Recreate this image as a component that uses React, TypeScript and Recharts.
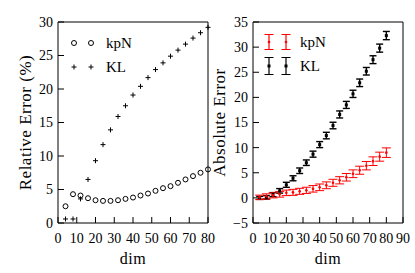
import React from "react";
import { ScatterChart, Scatter, XAxis, YAxis, ErrorBar, Legend, Label } from "recharts";

const FONT = "Liberation Serif, Times New Roman, DejaVu Serif, serif";

// dimension sampled every 4
const dims = [4, 8, 12, 16, 20, 24, 28, 32, 36, 40, 44, 48, 52, 56, 60, 64, 68, 72, 76, 80];

// left panel: relative error (%)
const kpnRelative = [2.5, 4.3, 4.1, 3.7, 3.4, 3.3, 3.3, 3.4, 3.6, 3.8, 4.1, 4.4, 4.8, 5.2, 5.5, 6.0, 6.5, 7.0, 7.5, 8.0];
const klRelative = [0.6, 0.6, 3.6, 6.5, 9.3, 11.7, 13.9, 15.9, 17.5, 19.1, 20.4, 21.7, 22.9, 23.9, 24.9, 25.8, 26.7, 27.6, 28.4, 29.2];

// right panel: absolute error with error bars
const kpnAbsolute = [0.1, 0.3, 0.5, 0.7, 1.0, 1.1, 1.3, 1.5, 1.8, 2.1, 2.5, 3.0, 3.5, 4.1, 4.8, 5.5, 6.4, 7.3, 8.2, 9.0];
const kpnAbsErr = [0.45, 0.5, 0.5, 0.55, 0.55, 0.6, 0.6, 0.62, 0.65, 0.66, 0.68, 0.7, 0.72, 0.75, 0.77, 0.8, 0.83, 0.86, 0.9, 0.95];
const klAbsolute = [0.0, 0.1, 0.65, 1.4, 2.6, 3.9, 5.4, 7.0, 8.7, 10.6, 12.4, 14.4, 16.6, 18.5, 20.7, 22.9, 25.2, 27.5, 29.8, 32.3];
const klAbsErr = [0.3, 0.35, 0.4, 0.45, 0.5, 0.5, 0.55, 0.55, 0.6, 0.6, 0.65, 0.65, 0.7, 0.7, 0.72, 0.75, 0.75, 0.78, 0.8, 0.82];

const relTicksX = [0, 10, 20, 30, 40, 50, 60, 70, 80];
const relTicksY = [0, 5, 10, 15, 20, 25, 30];
const absTicksX = [0, 10, 20, 30, 40, 50, 60, 70, 80, 90];
const absTicksY = [-5, 0, 5, 10, 15, 20, 25, 30, 35];

const kpnRelData = dims.map((d, i) => ({ dim: d, value: kpnRelative[i] }));
const klRelData = dims.map((d, i) => ({ dim: d, value: klRelative[i] }));
const kpnAbsData = dims.map((d, i) => ({ dim: d, value: kpnAbsolute[i], err: kpnAbsErr[i] }));
const klAbsData = dims.map((d, i) => ({ dim: d, value: klAbsolute[i], err: klAbsErr[i] }));

const tickStyle = { fill: "#000", fontSize: 14, fontFamily: FONT, style: { fontFamily: FONT } };
const minus = (v: number) => String(v).replace("-", "\u2212");

const Circle = (p: any) => <circle cx={p.cx} cy={p.cy} r={2.5} fill="none" stroke="#000" strokeWidth={1} />;
const Plus = (p: any) => (
  <path d={`M${p.cx - 2.5},${p.cy}H${p.cx + 2.5}M${p.cx},${p.cy - 2.5}V${p.cy + 2.5}`} stroke="#000" strokeWidth={1} />
);
const RedDot = (p: any) => <circle cx={p.cx} cy={p.cy} r={1.3} fill="#ff0000" />;
const BlackSquare = (p: any) => <rect x={p.cx - 1.5} y={p.cy - 1.5} width={3} height={3} fill="#000" />;

const txt = { fontFamily: FONT, fill: "#000" };

const SideLabel = (p: any) => {
  const vb = p.viewBox;
  const cx = vb.x + p.dx;
  const cy = vb.y + vb.height / 2;
  return (
    <text x={cx} y={cy} transform={`rotate(-90 ${cx} ${cy})`} textAnchor="middle" dominantBaseline="central"
      style={{ ...txt, fontSize: 17, letterSpacing: 0.5 }}>
      {p.text}
    </text>
  );
};

const DimLabel = (p: any) => {
  const vb = p.viewBox;
  return (
    <text x={vb.x + vb.width / 2} y={vb.y + 41} textAnchor="middle" style={{ ...txt, fontSize: 16, letterSpacing: 0.5 }}>
      dim
    </text>
  );
};

const RelLegend = () => (
  <svg width={70} height={45}>
    <circle cx={8} cy={10} r={2.5} fill="none" stroke="#000" />
    <circle cx={25} cy={10} r={2.5} fill="none" stroke="#000" />
    <text x={40} y={15} style={{ ...txt, fontSize: 15 }}>kpN</text>
    <path d="M5.5,34H10.5M8,31.5V36.5M22.5,34H27.5M25,31.5V36.5" stroke="#000" />
    <text x={40} y={39} style={{ ...txt, fontSize: 15 }}>KL</text>
  </svg>
);

const barGlyph = (cx: number, cy: number, color: string, half: number, cap: number) => (
  <path d={`M${cx},${cy - half}V${cy + half}M${cx - cap},${cy - half}H${cx + cap}M${cx - cap},${cy + half}H${cx + cap}`}
    fill="none" stroke={color} strokeWidth={1.2} />
);

const AbsLegend = () => (
  <svg width={70} height={50}>
    {barGlyph(8, 10, "#ff0000", 7.5, 4.5)}
    {barGlyph(25, 10, "#ff0000", 7.5, 4.5)}
    <circle cx={8} cy={10} r={1.3} fill="#ff0000" />
    <circle cx={25} cy={10} r={1.3} fill="#ff0000" />
    <text x={39} y={15} style={{ ...txt, fontSize: 15 }}>kpN</text>
    {barGlyph(8, 34, "#000", 8.5, 4.5)}
    {barGlyph(25, 34, "#000", 8.5, 4.5)}
    <rect x={6.5} y={32.5} width={3} height={3} fill="#000" />
    <rect x={23.5} y={32.5} width={3} height={3} fill="#000" />
    <text x={39} y={39} style={{ ...txt, fontSize: 15 }}>KL</text>
  </svg>
);

const axisLine = { stroke: "#000", strokeWidth: 1 };
const tickLine = { stroke: "#000", strokeWidth: 1 };

export default function App() {
  return (
    <div style={{ position: "absolute", left: 0, top: 0, width: 415, height: 273, background: "#fff", fontFamily: FONT }}>
      <div style={{ position: "absolute", left: 0, top: 0 }}>
        <ScatterChart width={225} height={273} margin={{ top: 21, right: 16, bottom: 0, left: 0 }}>
          <XAxis dataKey="dim" type="number" domain={[0, 80]} ticks={relTicksX} interval={0} height={50}
            tickSize={-6} tickMargin={16} axisLine={axisLine} tickLine={tickLine} tick={tickStyle}>
            <Label content={<DimLabel />} />
          </XAxis>
          <XAxis xAxisId="top" orientation="top" dataKey="dim" type="number" domain={[0, 80]} ticks={relTicksX}
            interval={0} height={1} tickSize={-6} tick={false} axisLine={axisLine} tickLine={tickLine} />
          <YAxis dataKey="value" type="number" domain={[0, 30]} ticks={relTicksY} interval={0} width={58}
            tickSize={-6} tickMargin={11} axisLine={axisLine} tickLine={tickLine} tick={tickStyle}>
            <Label content={<SideLabel text="Relative Error (%)" dx={25} />} />
          </YAxis>
          <YAxis yAxisId="right" orientation="right" type="number" domain={[0, 30]} ticks={relTicksY} interval={0}
            width={1} tickSize={-6} tick={false} axisLine={axisLine} tickLine={tickLine} />
          <Legend layout="vertical" align="center" verticalAlign="middle" content={<RelLegend />}
            wrapperStyle={{ left: 66, top: 33, width: 70, height: 45 }} />
          <Scatter name="kpN" data={kpnRelData} shape={<Circle />} isAnimationActive={false} />
          <Scatter name="KL" data={klRelData} shape={<Plus />} isAnimationActive={false} />
        </ScatterChart>
      </div>
      <div style={{ position: "absolute", left: 210, top: 0 }}>
        <ScatterChart width={205} height={273} margin={{ top: 21, right: 11, bottom: 0, left: 0 }}>
          <XAxis dataKey="dim" type="number" domain={[0, 90]} ticks={absTicksX} interval={0} height={50}
            tickSize={-6} tickMargin={16} axisLine={axisLine} tickLine={tickLine} tick={tickStyle}>
            <Label content={<DimLabel />} />
          </XAxis>
          <XAxis xAxisId="top" orientation="top" dataKey="dim" type="number" domain={[0, 90]} ticks={absTicksX}
            interval={0} height={1} tickSize={-6} tick={false} axisLine={axisLine} tickLine={tickLine} />
          <YAxis dataKey="value" type="number" domain={[-5, 35]} ticks={absTicksY} interval={0} width={43}
            tickSize={-6} tickMargin={11} axisLine={axisLine} tickLine={tickLine} tick={tickStyle}
            tickFormatter={minus} allowDataOverflow>
            <Label content={<SideLabel text="Absolute Error" dx={9} />} />
          </YAxis>
          <YAxis yAxisId="right" orientation="right" type="number" domain={[-5, 35]} ticks={absTicksY} interval={0}
            width={1} tickSize={-6} tick={false} axisLine={axisLine} tickLine={tickLine} />
          <Legend layout="vertical" align="center" verticalAlign="middle" content={<AbsLegend />}
            wrapperStyle={{ left: 51, top: 32, width: 70, height: 50 }} />
          <Scatter name="KL" data={klAbsData} shape={<BlackSquare />} isAnimationActive={false}>
            <ErrorBar dataKey="err" direction="y" width={3.5} stroke="#000" strokeWidth={1.4} />
          </Scatter>
          <Scatter name="kpN" data={kpnAbsData} shape={<RedDot />} isAnimationActive={false}>
            <ErrorBar dataKey="err" direction="y" width={4.5} stroke="#ff0000" strokeWidth={1} />
          </Scatter>
        </ScatterChart>
      </div>
    </div>
  );
}
